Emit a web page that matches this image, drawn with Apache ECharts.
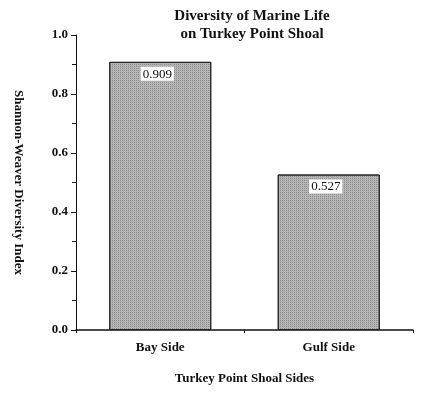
<!DOCTYPE html>
<html><head><meta charset="utf-8">
<script src="https://cdn.jsdelivr.net/npm/echarts@6/dist/echarts.min.js"></script>
<style>html,body{margin:0;padding:0;background:#fff}#c{width:422px;height:395px}</style>
</head><body><div id="c"></div>
<script>
const categories = ['Bay Side', 'Gulf Side'];
const diversity = [0.909, 0.527];
const yTicks = [0, 0.2, 0.4, 0.6, 0.8, 1.0];
const titleLines = ['Diversity of Marine Life', 'on Turkey Point Shoal'];

const serif = '"Liberation Serif", "Times New Roman", serif';
const chart = echarts.init(document.getElementById('c'));
chart.setOption({
  backgroundColor: '#fff',
  animation: false,
  title: {
    text: titleLines.join('\n'),
    left: 247, top: 2, textAlign: 'center',
    textStyle: { fontFamily: serif, fontWeight: 'bold', fontSize: 15, lineHeight: 18, color: '#111' }
  },
  grid: { left: 76, right: 9, top: 35, bottom: 65 },
  xAxis: {
    type: 'category', data: categories,
    name: 'Turkey Point Shoal Sides', nameLocation: 'middle', nameGap: 42,
    nameTextStyle: { fontFamily: serif, fontWeight: 'bold', fontSize: 13, color: '#111' },
    axisLine: { lineStyle: { color: '#111', width: 1.5 } },
    axisTick: { show: true, length: 3, lineStyle: { color: '#111' } },
    axisLabel: { fontFamily: serif, fontWeight: 'bold', fontSize: 13, color: '#111', margin: 11 }
  },
  yAxis: {
    type: 'value', min: yTicks[0], max: yTicks[yTicks.length - 1], interval: 0.2,
    name: 'Shannon-Weaver Diversity Index', nameLocation: 'middle', nameGap: 51, nameRotate: -90,
    nameTextStyle: { fontFamily: serif, fontWeight: 'bold', fontSize: 13, color: '#111' },
    axisLine: { show: true, lineStyle: { color: '#111', width: 1 } },
    axisTick: { show: true, length: 5, lineStyle: { color: '#111' } },
    minorTick: { show: true, splitNumber: 2, length: 4, lineStyle: { color: '#111' } },
    splitLine: { show: false },
    axisLabel: { fontFamily: serif, fontWeight: 'bold', fontSize: 13, color: '#111', margin: 8,
      padding: [0, 0, 4, 0],
      formatter: v => v.toFixed(1) }
  },
  series: [{
    type: 'bar', data: diversity, barWidth: 102,
    itemStyle: {
      color: '#b5b5b5', borderColor: '#222', borderWidth: 1,
      decal: { symbol: 'rect', symbolSize: 1, dashArrayX: [1, 1], dashArrayY: [1, 1], color: 'rgba(110,110,110,0.55)', rotation: 0 }
    },
    label: {
      show: true, position: 'insideTop', distance: 5, offset: [-3, 0],
      formatter: p => p.value.toFixed(3),
      fontFamily: serif, fontSize: 13, color: '#111',
      backgroundColor: '#fff', padding: [1, 2, 0, 2]
    }
  }]
});
</script></body></html>
